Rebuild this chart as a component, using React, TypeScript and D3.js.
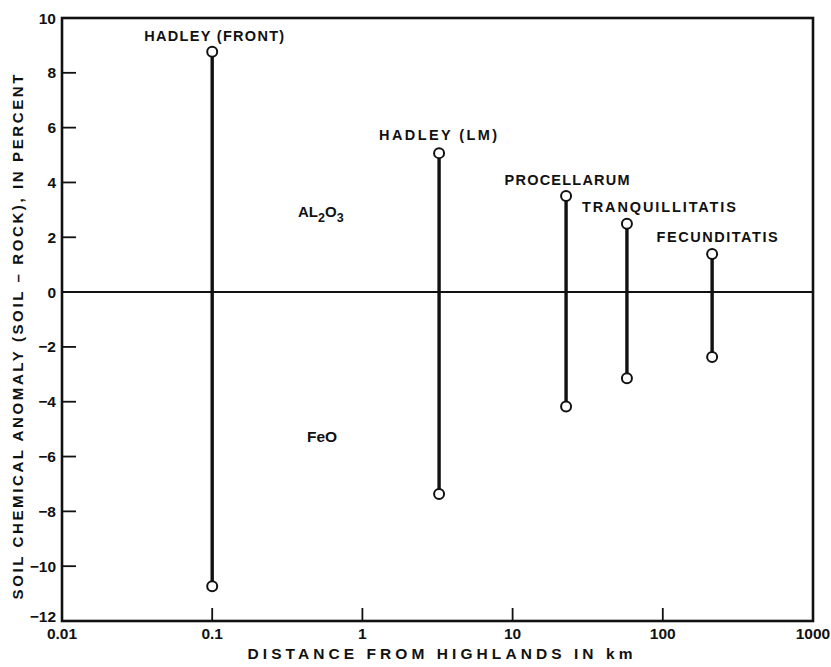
import React from "react";
import * as d3 from "d3";

const sites = ["HADLEY (FRONT)", "HADLEY (LM)", "PROCELLARUM", "TRANQUILLITATIS", "FECUNDITATIS"];
const distances = [0.1, 3.24, 22.7, 57.7, 213];
const al2o3 = [8.77, 5.07, 3.51, 2.49, 1.39];
const feo = [-10.73, -7.37, -4.17, -3.14, -2.37];
const yTicks = [10, 8, 6, 4, 2, 0, -2, -4, -6, -8, -10, -12];
const xTicks = [0.01, 0.1, 1, 10, 100, 1000];
const xTickLabels = ["0.01", "0.1", "1", "10", "100", "1000"];

const W = 831, H = 667;
const M = { left: 62, right: 813, top: 18, bottom: 621 };
const FONT = "'Liberation Sans', Arial, Helvetica, sans-serif";

// layout for site labels: offset of label centre from the point, gap above top circle, drawn width
const labelDx = [2, -1, 1, 32, 5];
const labelDy = [-11, -13, -11, -12, -12];
const labelWidth = [140, 118, 125, 154, 121];

export default function App() {
  const x = d3.scaleLog().domain([0.01, 1000]).range([M.left, M.right]);
  const y = d3.scaleLinear().domain([-12, 10]).range([M.bottom, M.top]);
  const ink = "#111";
  return (
    <svg width={W} height={H} style={{ position: "absolute", left: 0, top: 0, background: "#fff" }} fontFamily={FONT}>
      <rect x={0} y={0} width={W} height={H} fill="#fff" />
      {/* frame */}
      <rect x={M.left} y={M.top} width={M.right - M.left} height={M.bottom - M.top} fill="none" stroke={ink} strokeWidth={2.6} />
      {/* zero line */}
      <line x1={M.left} x2={M.right} y1={y(0)} y2={y(0)} stroke={ink} strokeWidth={2} />
      {/* y ticks */}
      {yTicks.map((t) => (
        <g key={"y" + t}>
          {t !== 10 && t !== -12 && t !== 0 && (
            <line x1={M.left} x2={M.left + 14} y1={y(t)} y2={y(t)} stroke={ink} strokeWidth={1.8} />
          )}
          <text x={M.left - 6} y={y(t) + (t === -12 ? -5 : 0)} dy="0.36em" textAnchor="end" fontSize={15.5} fontWeight={600} fill={ink}>
            {t < 0 ? "\u2212" + Math.abs(t) : String(t)}
          </text>
        </g>
      ))}
      {/* x ticks */}
      {xTicks.map((t, i) => (
        <g key={"x" + t}>
          {i > 0 && i < xTicks.length - 1 && (
            <line x1={x(t)} x2={x(t)} y1={M.bottom} y2={M.bottom - 13} stroke={ink} strokeWidth={1.8} />
          )}
          <text x={x(t)} y={M.bottom + 18} textAnchor="middle" fontSize={15.5} fontWeight={600} fill={ink}>
            {xTickLabels[i]}
          </text>
        </g>
      ))}
      {/* axis titles */}
      <text x={440} y={659} textAnchor="middle" fontSize={15.5} fontWeight={600} fill={ink} textLength={385} lengthAdjust="spacing">
        DISTANCE FROM HIGHLANDS IN km
      </text>
      <text transform={`translate(23,337) rotate(-90)`} textAnchor="middle" fontSize={15} fontWeight={600} fill={ink} textLength={525} lengthAdjust="spacing">
        SOIL CHEMICAL ANOMALY (SOIL {"\u2013"} ROCK), IN PERCENT
      </text>
      {/* bars */}
      {sites.map((s, i) => {
        const cx = x(distances[i]);
        const yt = y(al2o3[i]);
        const yb = y(feo[i]);
        return (
          <g key={s}>
            <line x1={cx} x2={cx} y1={yt + 5} y2={yb - 5} stroke={ink} strokeWidth={3.4} />
            <circle cx={cx} cy={yt} r={5} fill="#fff" stroke={ink} strokeWidth={2} />
            <circle cx={cx} cy={yb} r={5} fill="#fff" stroke={ink} strokeWidth={2} />
            <text x={cx + labelDx[i]} y={yt + labelDy[i]} textAnchor="middle" fontSize={14.5} fontWeight={600} fill={ink}
              textLength={labelWidth[i]} lengthAdjust="spacing">
              {s}
            </text>
          </g>
        );
      })}
      {/* compound labels */}
      <text x={298} y={217} fontSize={15} fontWeight={600} fill={ink}>
        AL<tspan fontSize={12.5} dy={5}>2</tspan><tspan dy={-5}>O</tspan><tspan fontSize={12.5} dy={5}>3</tspan>
      </text>
      <text x={307} y={442} fontSize={15.5} fontWeight={600} fill={ink}>FeO</text>
    </svg>
  );
}
